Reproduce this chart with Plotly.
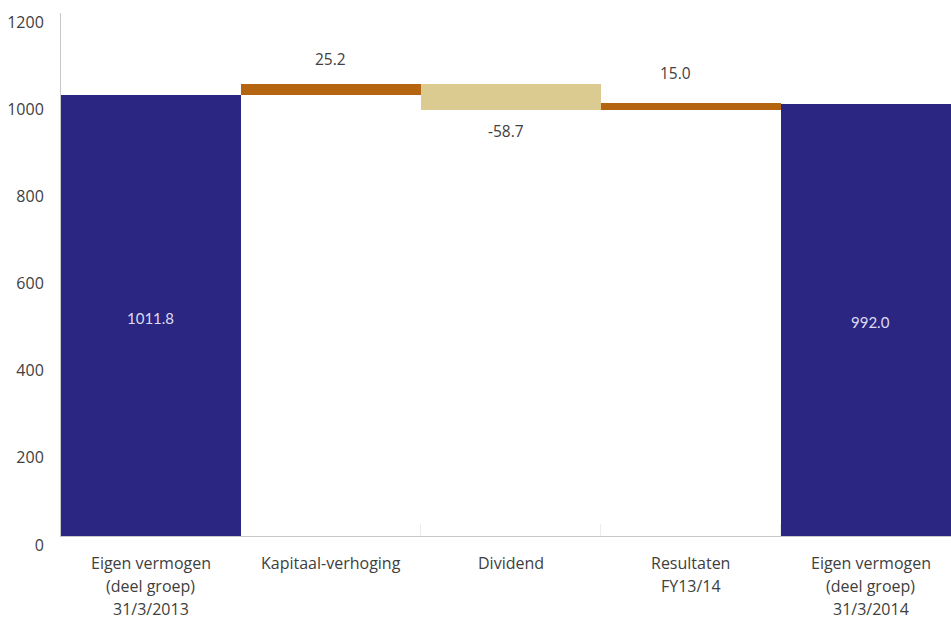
import plotly.graph_objects as go

# Equity bridge FY13/14 (EUR million)
categories = [
    "Eigen vermogen (deel groep) 31/3/2013",
    "Kapitaal-verhoging",
    "Dividend",
    "Resultaten FY13/14",
    "Eigen vermogen (deel groep) 31/3/2014",
]
category_lines = [
    ["Eigen vermogen", "(deel groep)", "31/3/2013"],
    ["Kapitaal-verhoging"],
    ["Dividend"],
    ["Resultaten", "FY13/14"],
    ["Eigen vermogen", "(deel groep)", "31/3/2014"],
]
measures = ["absolute", "relative", "relative", "relative", "absolute"]
values = [1011.8, 25.2, -58.7, 15.0, 992.0]
y_ticks = [0, 200, 400, 600, 800, 1000, 1200]

NAVY = "#2C2683"
ORANGE = "#B5650F"
BEIGE = "#DCCB90"
FONT = "Open Sans"
TEXT_COLOR = "#404040"

fig = go.Figure(
    go.Waterfall(
        x=categories,
        y=values,
        measure=measures,
        totals=dict(marker=dict(color=NAVY, line=dict(width=0))),
        increasing=dict(marker=dict(color=ORANGE, line=dict(width=0))),
        decreasing=dict(marker=dict(color=BEIGE, line=dict(width=0))),
        connector=dict(visible=False),
        hoverinfo="skip",
    )
)

annotations = []

# value labels: inside totals, above increases, below decreases
label_gap = [0, 12, 8, 17, 0]
label_dx = [0, 0, -5, -15, 0]
running = 0.0
for i, (m, v) in enumerate(zip(measures, values)):
    if m == "absolute":
        running = v
        annotations.append(dict(
            x=categories[i], y=v / 2, text=f"{v:.1f}", showarrow=False,
            font=dict(family="Lato", size=15, color="#dcdbf0"), yshift=-2,
        ))
    else:
        running += v
        up = v >= 0
        annotations.append(dict(
            x=categories[i], y=running, text=f"{v:.1f}", showarrow=False,
            yanchor="bottom" if up else "top",
            yshift=label_gap[i] if up else -label_gap[i],
            xshift=label_dx[i],
            font=dict(family=FONT, size=15.5, color=TEXT_COLOR),
        ))

# multi-line category labels under the axis
line_offsets = [27, 50, 73]
for cat, lines in zip(categories, category_lines):
    for j, line in enumerate(lines):
        annotations.append(dict(
            x=cat, xref="x", y=0, yref="paper", text=line, showarrow=False,
            yanchor="middle", yshift=-line_offsets[j],
            font=dict(family=FONT, size=16, color=TEXT_COLOR),
        ))

fig.update_layout(
    width=951,
    height=626,
    margin=dict(l=61, r=0, t=13, b=90),
    paper_bgcolor="white",
    plot_bgcolor="white",
    waterfallgap=0,
    showlegend=False,
    font=dict(family=FONT, size=16, color=TEXT_COLOR),
    annotations=annotations,
)
fig.update_xaxes(
    range=[-0.5, 4.445],
    showline=True, linecolor="#c8c8c8", linewidth=1,
    showgrid=False, tickson="boundaries", ticks="inside",
    ticklen=12, tickcolor="#ececec", showticklabels=False,
    layer="below traces",
)
fig.update_yaxes(
    range=[0, 1200], tickvals=y_ticks, showgrid=False, zeroline=False,
    showline=True, linecolor="#c8c8c8", linewidth=1,
    tickfont=dict(family=FONT, size=16, color=TEXT_COLOR),
    ticklabelshift=9, ticklabelstandoff=13,
)

fig.write_html("out.html")
